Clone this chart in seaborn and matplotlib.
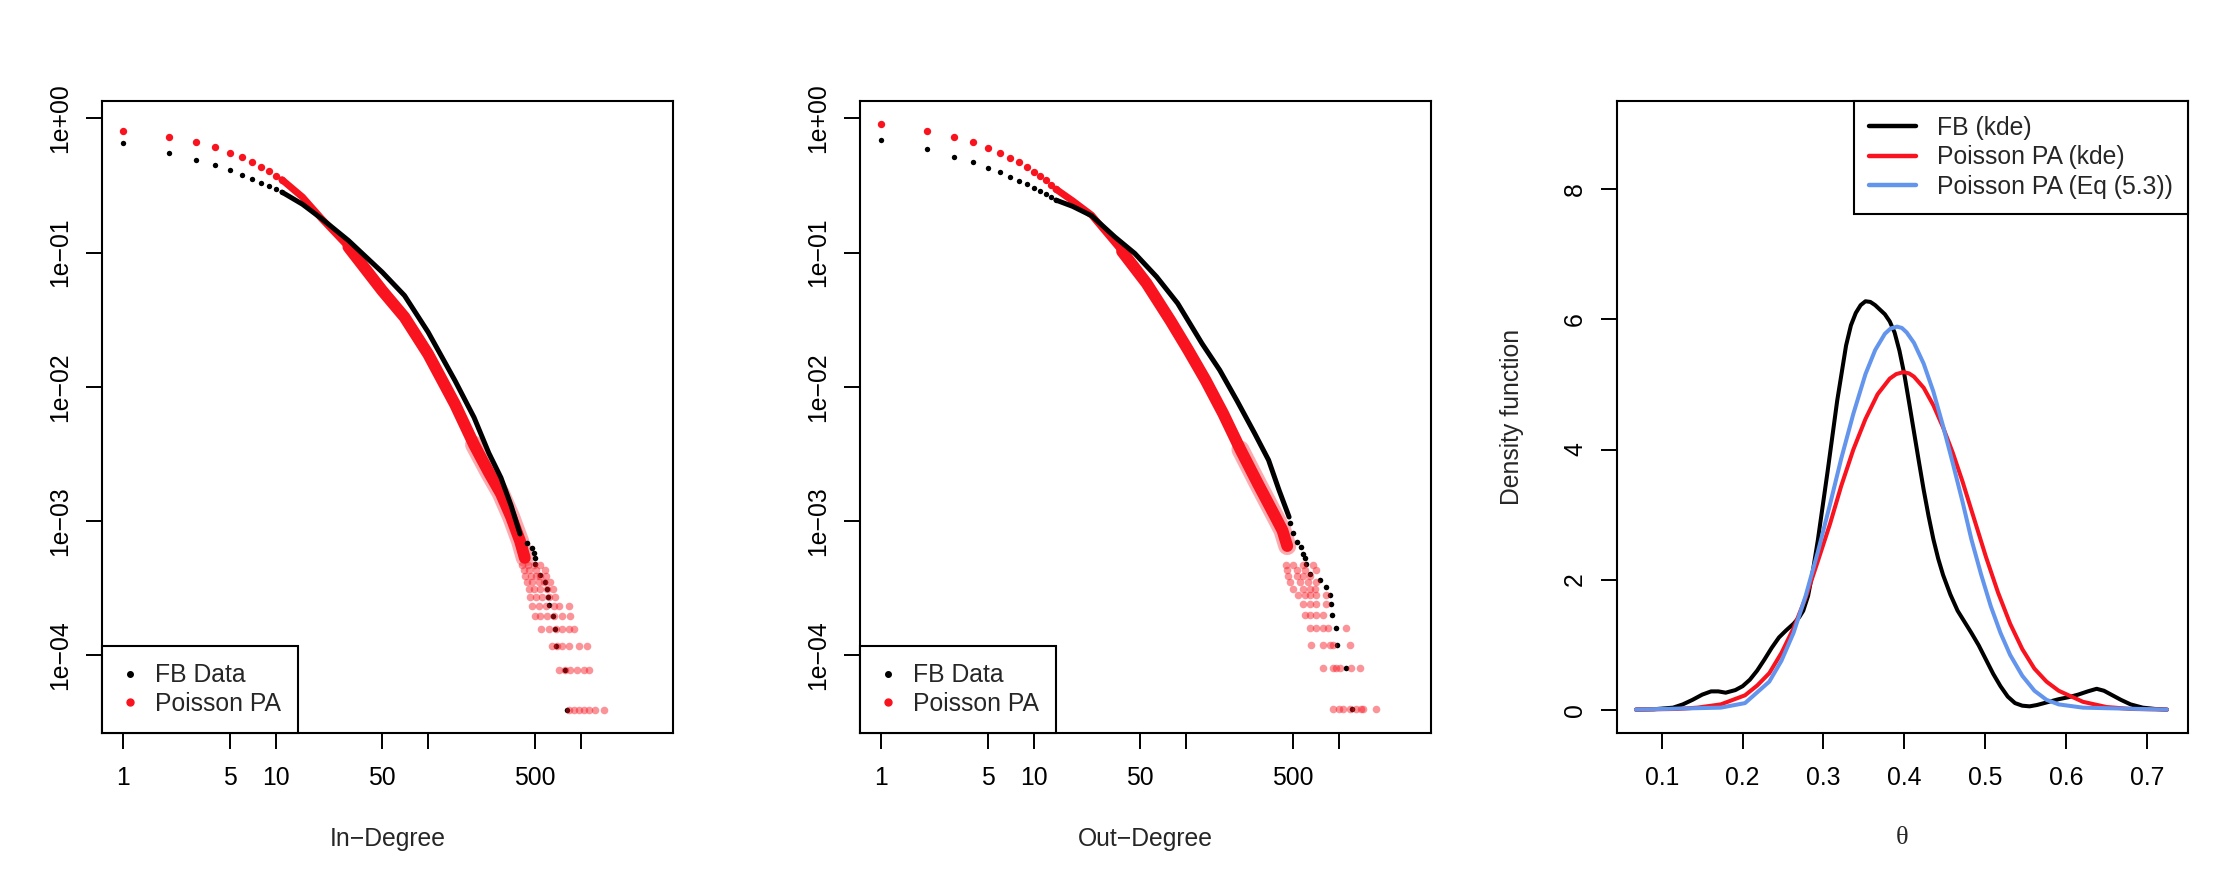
import numpy as np
import pandas as pd
import matplotlib
matplotlib.use('Agg')
import matplotlib.pyplot as plt
from matplotlib.lines import Line2D
import seaborn as sns

# values (estimates)

# --- in-degree CCDF ---
fb_in_deg = [1, 2, 3, 4, 5, 6, 7, 8, 9, 10, 11,
             15, 20, 30, 50, 70, 100, 150, 200, 250, 300, 350, 400]
fb_in_ccdf = [0.654, 0.554, 0.491, 0.446, 0.409, 0.376, 0.352, 0.329, 0.311, 0.295, 0.282,
              0.229, 0.179, 0.123, 0.0714, 0.0478, 0.0255, 0.0111, 0.0059, 0.0032, 0.0021, 0.0013, 0.0008]
fb_in_tail_deg = [446, 481, 493, 500, 505, 537, 587, 605, 611, 624, 656, 676, 693, 794, 819]
fb_in_tail_ccdf = [6.9e-4, 6.3e-4, 5.8e-4, 5.3e-4, 4.75e-4, 3.94e-4, 3.52e-4, 3.12e-4,
                   2.72e-4, 2.36e-4, 1.95e-4, 1.56e-4, 1.17e-4, 7.8e-5, 3.9e-5]

pa_in_deg = [1, 2, 3, 4, 5, 6, 7, 8, 9, 10, 11,
             15, 20, 30, 50, 70, 100, 150, 200, 250, 300, 350, 400, 430]
pa_in_ccdf = [0.805, 0.73, 0.666, 0.608, 0.554, 0.512, 0.472, 0.436, 0.402, 0.373, 0.349,
              0.259, 0.179, 0.110, 0.052, 0.033, 0.0175, 0.0074, 0.0037, 0.0023, 0.0016, 0.00107, 0.00071, 0.00053]
pa_in_tail_levels = [3.9e-5, 7.8e-5, 1.17e-4, 1.56e-4, 1.95e-4, 2.34e-4,
                     2.73e-4, 3.12e-4, 3.51e-4, 3.9e-4, 4.3e-4, 4.7e-4]
pa_in_tail_rows = [[835, 900, 970, 1045, 1128, 1248, 1413],
                   [725, 794, 855, 945, 1045, 1128],
                   [649, 700, 755, 835, 970, 1100],
                   [553, 618, 684, 755, 835, 900],
                   [500, 545, 603, 666, 755, 855],
                   [481, 531, 588, 666, 718, 835],
                   [462, 506, 559, 618, 677],
                   [457, 493, 545, 603, 656],
                   [446, 481, 531, 573, 633],
                   [431, 469, 506, 545, 594],
                   [424, 457, 506, 582],
                   [414, 450, 493, 545]]

# --- out-degree CCDF ---
fb_out_deg = [1, 2, 3, 4, 5, 6, 7, 8, 9, 10, 11, 12, 13, 14,
              18, 24, 34, 46, 64, 88, 127, 166, 215, 281, 347, 406, 473]
fb_out_ccdf = [0.689, 0.587, 0.517, 0.470, 0.429, 0.396, 0.367, 0.343, 0.322, 0.304, 0.289, 0.273, 0.259, 0.246,
               0.221, 0.188, 0.131, 0.0986, 0.066, 0.0418, 0.021, 0.0133, 0.0079, 0.0045, 0.00284, 0.0017, 0.00107]
fb_out_tail_deg = [478, 498, 534, 562, 585, 600, 615, 646, 751, 831, 883, 896, 909, 966, 980, 1111, 1229]
fb_out_tail_ccdf = [9.6e-4, 8.1e-4, 7.0e-4, 6.4e-4, 5.7e-4, 5.3e-4, 4.8e-4, 4.0e-4, 3.6e-4,
                    3.2e-4, 2.79e-4, 2.4e-4, 2.0e-4, 1.6e-4, 1.2e-4, 8.0e-5, 4.0e-5]

pa_out_deg = [1, 2, 3, 4, 5, 6, 7, 8, 9, 10, 11, 12, 13, 14,
              18, 24, 38, 55, 79, 103, 134, 175, 227, 295, 385, 428, 460]
pa_out_ccdf = [0.902, 0.809, 0.730, 0.662, 0.604, 0.554, 0.509, 0.472, 0.431, 0.398, 0.370, 0.347, 0.318, 0.297,
               0.243, 0.190, 0.102, 0.059, 0.031, 0.0188, 0.0112, 0.0063, 0.0034, 0.0019, 0.00107, 0.00085, 0.00065]
pa_out_tail_levels = [4.0e-5, 8.0e-5, 1.2e-4, 1.6e-4, 2.0e-4, 2.4e-4,
                      2.8e-4, 3.1e-4, 3.5e-4, 3.9e-4, 4.3e-4, 4.7e-4]
pa_out_tail_rows = [[918, 1000, 1067, 1180, 1305, 1400, 1442, 1763],
                    [789, 918, 966, 1016, 1210, 1372],
                    [660, 789, 873, 918, 1180],
                    [646, 714, 789, 850, 1122],
                    [600, 646, 714, 789],
                    [584, 646, 714, 831],
                    [540, 600, 646, 714, 831],
                    [503, 584, 646, 700],
                    [478, 556, 630, 714],
                    [465, 529, 584, 646],
                    [455, 529, 600, 714],
                    [450, 503, 584, 679]]

# --- theta densities ---
theta_fb = [0.068, 0.090, 0.114, 0.126, 0.138, 0.150, 0.161, 0.170, 0.179, 0.191, 0.200, 0.209,
            0.218, 0.227, 0.236, 0.245, 0.254, 0.263, 0.270, 0.275, 0.281, 0.287, 0.293, 0.305,
            0.317, 0.328, 0.334, 0.340, 0.346, 0.352, 0.358, 0.364, 0.370, 0.376, 0.382, 0.388,
            0.394, 0.400, 0.406, 0.412, 0.418, 0.424, 0.430, 0.436, 0.442, 0.448, 0.457, 0.466,
            0.475, 0.483, 0.492, 0.501, 0.510, 0.519, 0.528, 0.537, 0.546, 0.555, 0.564, 0.573,
            0.591, 0.603, 0.615, 0.627, 0.638, 0.647, 0.656, 0.668, 0.680, 0.695, 0.710, 0.725]
dens_fb = [0, 0.005, 0.03, 0.08, 0.15, 0.23, 0.28, 0.28, 0.26, 0.30, 0.36, 0.46,
           0.60, 0.77, 0.95, 1.11, 1.22, 1.32, 1.42, 1.52, 1.75, 2.14, 2.60, 3.65,
           4.75, 5.60, 5.91, 6.10, 6.22, 6.28, 6.27, 6.22, 6.15, 6.08, 5.97, 5.80,
           5.52, 5.16, 4.72, 4.27, 3.82, 3.38, 2.98, 2.62, 2.32, 2.07, 1.77, 1.52,
           1.34, 1.18, 0.99, 0.77, 0.55, 0.36, 0.20, 0.10, 0.06, 0.05, 0.07, 0.10,
           0.16, 0.19, 0.23, 0.28, 0.32, 0.29, 0.23, 0.15, 0.08, 0.03, 0.01, 0]

theta_pa = [0.068, 0.120, 0.144, 0.173, 0.203, 0.218, 0.233, 0.248, 0.263, 0.278, 0.293, 0.308,
            0.322, 0.337, 0.352, 0.367, 0.382, 0.390, 0.399, 0.406, 0.412, 0.424, 0.436, 0.448,
            0.460, 0.472, 0.486, 0.501, 0.516, 0.531, 0.546, 0.561, 0.576, 0.591, 0.621, 0.650,
            0.680, 0.725]
dens_pa = [0, 0.01, 0.03, 0.08, 0.22, 0.37, 0.56, 0.87, 1.25, 1.72, 2.28, 2.85,
           3.44, 4.00, 4.47, 4.85, 5.09, 5.16, 5.19, 5.17, 5.12, 4.95, 4.68, 4.34,
           3.95, 3.51, 2.95, 2.35, 1.80, 1.32, 0.93, 0.63, 0.43, 0.29, 0.12, 0.04,
           0.01, 0]

theta_eq = [0.068, 0.173, 0.203, 0.233, 0.248, 0.263, 0.278, 0.293, 0.308, 0.322, 0.337, 0.352,
            0.364, 0.376, 0.383, 0.391, 0.397, 0.403, 0.412, 0.424, 0.436, 0.448, 0.460, 0.472,
            0.483, 0.495, 0.507, 0.519, 0.531, 0.546, 0.561, 0.576, 0.591, 0.621, 0.725]
dens_eq = [0, 0.03, 0.10, 0.43, 0.75, 1.18, 1.75, 2.42, 3.15, 3.86, 4.55, 5.16,
           5.53, 5.78, 5.86, 5.89, 5.87, 5.80, 5.64, 5.32, 4.89, 4.36, 3.79, 3.20,
           2.62, 2.08, 1.59, 1.18, 0.84, 0.52, 0.29, 0.15, 0.08, 0.03, 0]

deg_ticks = [1, 5, 10, 50, 100, 500, 1000]
deg_tick_labels = ['1', '5', '10', '50', '', '500', '']
ccdf_ticks = [1, 1e-1, 1e-2, 1e-3, 1e-4]
ccdf_tick_labels = ['1e+00', '1e\u221201', '1e\u221202', '1e\u221203', '1e\u221204']
theta_ticks = [0.1, 0.2, 0.3, 0.4, 0.5, 0.6, 0.7]
dens_ticks = [0, 2, 4, 6, 8]

RED = '#F8131E'
BLUE = '#6495ED'
FS = 17.8

sns.set_theme(style='ticks')
plt.rcParams['font.family'] = ['Liberation Sans', 'DejaVu Sans']
plt.rcParams['axes.linewidth'] = 1.5
plt.rcParams['axes.edgecolor'] = 'black'

fig = plt.figure(figsize=(22.36, 8.76), dpi=100)
W, H = 2236, 876
ax_b, ax_h, ax_w = (876 - 733) / H, 632 / H, 571 / W
ax1 = fig.add_axes([102 / W, ax_b, ax_w, ax_h])
ax2 = fig.add_axes([860 / W, ax_b, ax_w, ax_h])
ax3 = fig.add_axes([1617 / W, ax_b, ax_w, ax_h])


def style_axes(ax):
    for sp in ax.spines.values():
        sp.set_visible(True)
        sp.set_linewidth(1.5)
        sp.set_color('black')
    ax.tick_params(axis='both', direction='out', length=11.5, width=1.4,
                   labelsize=FS, color='black', labelcolor='black')
    ax.tick_params(axis='x', pad=12)
    ax.tick_params(axis='y', pad=10, labelrotation=90)
    ax.minorticks_off()
    for lab in ax.get_yticklabels():
        lab.set_va('center')


def ccdf_panel(ax, fb_deg, fb_ccdf, fb_tail_deg, fb_tail_ccdf,
               pa_deg, pa_ccdf, tail_levels, tail_rows, n_dots, xlabel):
    fb = pd.DataFrame({'deg': fb_deg, 'ccdf': fb_ccdf})
    pa = pd.DataFrame({'deg': pa_deg, 'ccdf': pa_ccdf})
    tail = pd.DataFrame({'deg': [d for row in tail_rows for d in row],
                         'ccdf': [lv for lv, row in zip(tail_levels, tail_rows) for _ in row]})

    ax.set_xscale('log')
    ax.set_yscale('log')

    # FB data: single dots at low degree, the dense run drawn as a thick line
    sns.scatterplot(data=fb.iloc[:n_dots], x='deg', y='ccdf', color='black',
                    s=15, linewidth=0, ax=ax, zorder=4)
    sns.lineplot(data=fb.iloc[n_dots - 1:], x='deg', y='ccdf', color='black',
                 lw=3.6, sort=False, estimator=None, ax=ax, zorder=4,
                 solid_capstyle='round')
    sns.scatterplot(x=fb_tail_deg, y=fb_tail_ccdf, color='black', s=16,
                    linewidth=0, ax=ax, zorder=4)

    # Poisson PA: several runs overlaid -> band that widens with degree
    sns.scatterplot(data=pa.iloc[:n_dots], x='deg', y='ccdf', color=RED,
                    s=28, linewidth=0, ax=ax, zorder=3)
    sns.lineplot(data=pa.iloc[n_dots - 1:], x='deg', y='ccdf', color=RED,
                 lw=5, sort=False, estimator=None, ax=ax, zorder=3,
                 solid_capstyle='round')
    sns.lineplot(data=pa[pa.deg >= 30], x='deg', y='ccdf', color=RED,
                 lw=8.5, sort=False, estimator=None, ax=ax, zorder=3,
                 solid_capstyle='round')
    sns.lineplot(data=pa[pa.deg >= 200], x='deg', y='ccdf', color=RED, alpha=0.35,
                 lw=13, sort=False, estimator=None, ax=ax, zorder=3,
                 solid_capstyle='round')
    sns.scatterplot(data=tail, x='deg', y='ccdf', color=RED, alpha=0.45,
                    s=30, linewidth=0, ax=ax, zorder=5)

    ax.set_xlim(0.728, 4027)
    ax.set_ylim(2.63e-5, 1.346)
    ax.set_xticks(deg_ticks)
    ax.set_xticklabels(deg_tick_labels)
    ax.set_yticks(ccdf_ticks)
    ax.set_yticklabels(ccdf_tick_labels)
    ax.set_xlabel(xlabel, fontsize=FS)
    ax.set_ylabel('')
    ax.xaxis.set_label_coords(0.5, -0.148)
    style_axes(ax)

    handles = [Line2D([], [], ls='', marker='o', color='black', markersize=4),
               Line2D([], [], ls='', marker='o', color=RED, markersize=5)]
    leg = ax.legend(handles, ['FB Data', 'Poisson PA'], loc='lower left',
                    bbox_to_anchor=(0, 0), borderaxespad=0, fontsize=FS,
                    frameon=True, fancybox=False, framealpha=1, edgecolor='black',
                    borderpad=0.7, labelspacing=0.18, handlelength=0.9,
                    handletextpad=0.55)
    leg.get_frame().set_linewidth(1.5)


ccdf_panel(ax1, fb_in_deg, fb_in_ccdf, fb_in_tail_deg, fb_in_tail_ccdf,
           pa_in_deg, pa_in_ccdf, pa_in_tail_levels, pa_in_tail_rows, 11, 'In\u2212Degree')
ccdf_panel(ax2, fb_out_deg, fb_out_ccdf, fb_out_tail_deg, fb_out_tail_ccdf,
           pa_out_deg, pa_out_ccdf, pa_out_tail_levels, pa_out_tail_rows, 14, 'Out\u2212Degree')

# density of theta
sns.lineplot(x=theta_fb, y=dens_fb, color='black', lw=2.9, sort=False, estimator=None, ax=ax3)
sns.lineplot(x=theta_pa, y=dens_pa, color=RED, lw=2.9, sort=False, estimator=None, ax=ax3)
sns.lineplot(x=theta_eq, y=dens_eq, color=BLUE, lw=2.9, sort=False, estimator=None, ax=ax3)
ax3.set_xlim(0.0446, 0.751)
ax3.set_ylim(-0.36, 9.36)
ax3.set_xticks(theta_ticks)
ax3.set_xticklabels([f'{t:.1f}' for t in theta_ticks])
ax3.set_yticks(dens_ticks)
ax3.set_yticklabels([str(t) for t in dens_ticks])
ax3.set_xlabel('\u03b8', fontsize=19, family=['Liberation Serif', 'DejaVu Serif'])
ax3.set_ylabel('Density function', fontsize=FS)
ax3.xaxis.set_label_coords(0.5, -0.148)
ax3.yaxis.set_label_coords(-0.163, 0.5)
style_axes(ax3)
handles3 = [Line2D([], [], color='black', lw=3.2),
            Line2D([], [], color=RED, lw=3.2),
            Line2D([], [], color=BLUE, lw=3.2)]
leg3 = ax3.legend(handles3, ['FB (kde)', 'Poisson PA (kde)', 'Poisson PA (Eq (5.3))'],
                  loc='upper right', bbox_to_anchor=(1, 1), borderaxespad=0, fontsize=FS,
                  frameon=True, fancybox=False, framealpha=1, edgecolor='black',
                  borderpad=0.6, labelspacing=0.22, handlelength=1.9, handletextpad=0.85)
leg3.get_frame().set_linewidth(1.5)

fig.savefig('out.png', dpi=100)
